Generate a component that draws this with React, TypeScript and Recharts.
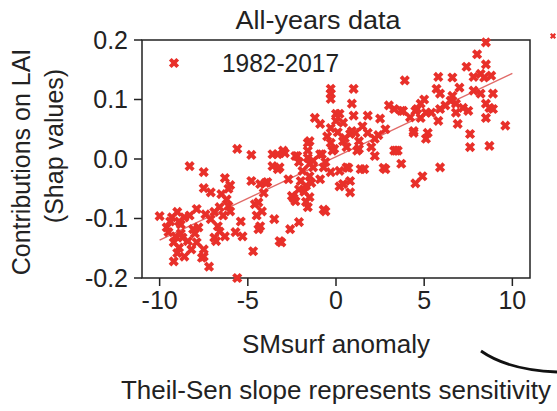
import { ScatterChart, Scatter, XAxis, YAxis, ReferenceLine, ReferenceArea } from 'recharts'

// SMsurf anomaly vs Shap value in four x-bands
const dryEnd: [number, number][] = [
  [-10.0, -0.096], [-9.6, -0.115], [-9.5, -0.123], [-9.3, -0.098], [-9.2, -0.14], [-9.2, -0.172],
  [-9.1, -0.13], [-9.0, -0.089], [-8.9, -0.105], [-8.9, -0.149], [-8.8, -0.11], [-8.7, -0.132],
  [-8.6, -0.098], [-8.6, -0.164], [-8.4, -0.138], [-8.3, -0.012], [-8.2, -0.152], [-8.1, -0.118],
  [-8.0, -0.125], [-7.9, -0.084], [-7.8, -0.115], [-7.6, -0.166], [-7.5, -0.022], [-7.5, -0.049],
  [-7.5, -0.152], [-7.5, -0.164], [-7.4, -0.093], [-7.2, -0.181], [-7.1, -0.056], [-7.1, -0.101],
  [-6.9, -0.089], [-6.9, -0.132], [-6.8, -0.138], [-6.7, -0.113], [-6.6, -0.081], [-6.6, -0.122],
  [-6.5, -0.059], [-6.3, -0.032], [-6.3, -0.13], [-6.2, -0.068], [-6.1, -0.079], [-6.0, -0.044],
  [-6.0, -0.088], [-5.7, -0.123], [-5.6, 0.017], [-5.6, -0.2], [-5.4, -0.105], [-5.3, -0.13],
  [-6.1, -0.05], [-6.4, -0.095], [-9.4, -0.105], [-8.8, -0.125], [-8.3, -0.095], [-7.9, -0.14],
  [-9.0, -0.158],
]

const midDry: [number, number][] = [
  [-4.8, 0.007], [-4.8, -0.037], [-4.7, -0.155], [-4.6, -0.076], [-4.4, -0.073], [-4.4, -0.118],
  [-4.3, -0.042], [-4.3, -0.113], [-4.2, -0.088], [-4.0, -0.04], [-3.9, -0.039], [-3.6, 0.008],
  [-3.6, -0.012], [-3.5, -0.101], [-3.3, 0.008], [-3.3, -0.017], [-3.2, -0.014], [-3.2, -0.138],
  [-3.1, -0.14], [-3.0, 0.014], [-2.9, 0.01], [-2.7, -0.034], [-2.6, -0.118], [-2.5, -0.062],
  [-2.4, -0.066], [-2.3, 0.005], [-2.3, -0.071], [-2.2, 0.005], [-2.1, -0.005], [-2.1, -0.051],
  [-2.1, -0.106], [-2.0, -0.037], [-1.6, 0.027], [-1.6, 0.014], [-1.6, 0.002], [-1.6, -0.081],
  [-1.5, 0.03], [-1.5, -0.008], [-1.5, -0.029], [-1.5, -0.064], [-1.3, -0.003], [-1.3, -0.014],
  [-1.2, 0.069], [-1.9, -0.02], [-1.8, -0.055], [-1.7, -0.045], [-1.4, -0.04], [-1.7, -0.072],
  [-4.1, -0.057], [-4.5, -0.095],
]

const midWet: [number, number][] = [
  [-0.9, 0.059], [-0.9, 0.008], [-0.9, -0.034], [-0.8, 0.008], [-0.7, -0.014], [-0.7, -0.085],
  [-0.6, -0.088], [-0.3, 0.118], [-0.3, 0.11], [-0.3, 0.101], [-0.3, 0.052], [-0.3, 0.027],
  [-0.3, -0.022], [-0.2, 0.014], [-0.1, 0.017], [0.0, 0.076], [0.0, 0.064], [0.2, 0.076],
  [0.2, -0.02], [0.2, -0.046], [0.4, 0.061], [0.4, 0.03], [0.4, -0.042], [0.5, 0.035],
  [0.6, -0.014], [0.7, -0.015], [0.8, 0.042], [0.8, -0.037], [0.8, -0.056], [0.9, 0.093],
  [0.9, 0.047], [1.0, 0.118], [1.0, 0.073], [1.1, 0.044], [1.2, 0.014], [1.3, 0.017],
  [1.3, 0.03], [1.4, -0.017], [1.6, -0.017], [1.8, 0.073], [1.8, 0.044], [2.2, 0.034],
  [2.2, 0.005], [2.5, 0.068], [2.7, -0.015], [2.8, -0.017], [-0.5, 0.038], [0.1, 0.045],
  [0.6, 0.02], [1.5, 0.055], [2.0, 0.02], [2.4, 0.04], [-0.6, -0.005],
]

const wetEnd: [number, number][] = [
  [3.3, 0.084], [3.3, 0.014], [3.4, 0.014], [3.5, 0.014], [3.7, 0.081], [3.7, -0.008],
  [3.8, 0.081], [3.9, 0.132], [4.4, 0.047], [4.4, 0.044], [4.5, 0.081], [4.5, -0.041],
  [4.6, 0.084], [4.8, 0.093], [4.8, 0.069], [4.9, -0.029], [5.1, 0.078], [5.1, 0.034],
  [5.2, 0.044], [5.4, 0.078], [5.7, 0.118], [5.8, 0.138], [5.8, 0.064], [5.9, 0.11],
  [5.9, 0.084], [5.9, -0.014], [6.5, 0.098], [6.6, 0.137], [6.6, 0.106], [6.8, 0.093],
  [6.8, 0.078], [6.9, 0.059], [7.2, 0.086], [7.4, 0.155], [7.5, 0.081], [7.6, 0.042],
  [7.6, 0.02], [7.8, 0.138], [7.8, 0.115], [8.0, 0.176], [8.2, 0.143], [8.2, 0.11],
  [8.4, 0.137], [8.5, 0.196], [8.5, 0.159], [8.5, 0.093], [8.5, 0.069], [8.7, 0.086],
  [8.7, 0.022], [8.8, 0.14], [8.9, 0.11], [8.9, 0.084], [9.6, 0.056], [2.8, 0.05],
  [3.0, 0.09], [5.0, 0.1], [6.2, 0.09], [7.0, 0.12], [4.2, 0.07],
]

const xTicks = [-10, -5, 0, 5, 10]
const yTicks = [-0.2, -0.1, 0, 0.1, 0.2]
const fitRange = [-10, 10]
const legendLabel = '1982-2017'

const RED = '#e8302a'
const FONT = '"Liberation Sans", Arial, sans-serif'

const points = [...dryEnd, ...midDry, ...midWet, ...wetEnd].map(([x, y]) => ({ x, y }))

const median = (arr: number[]) => {
  const s = [...arr].sort((a, b) => a - b)
  const m = Math.floor(s.length / 2)
  return s.length % 2 ? s[m] : (s[m - 1] + s[m]) / 2
}

// Theil-Sen estimator
const slopes: number[] = []
for (let i = 0; i < points.length; i++) {
  for (let j = i + 1; j < points.length; j++) {
    const dx = points[j].x - points[i].x
    if (dx !== 0) slopes.push((points[j].y - points[i].y) / dx)
  }
}
const slope = median(slopes)
const intercept = median(points.map((p) => p.y - slope * p.x))
const fitSegment = fitRange.map((x) => ({ x, y: slope * x + intercept }))

const XMark = ({ cx, cy, s = 1 }: { cx?: number; cy?: number; s?: number }) => {
  if (cx == null || cy == null) return null
  const a = 5.3
  const t = 1.9
  const pts = [
    [-t, -a], [t, -a], [t, -t], [a, -t], [a, t], [t, t],
    [t, a], [-t, a], [-t, t], [-a, t], [-a, -t], [-t, -t],
  ].map((p) => p.join(',')).join(' ')
  return <polygon points={pts} transform={`translate(${cx},${cy}) rotate(45) scale(${s})`} fill={RED} />
}

export default function App() {
  const tickStyle = { fontSize: 25, fill: '#222', fontFamily: FONT }
  return (
    <div style={{ position: 'absolute', left: 0, top: 0, width: 557, height: 411, background: '#fff' }}>
      <ScatterChart width={557} height={411} margin={{ top: 40, right: 27, bottom: 93, left: 0 }}>
        <XAxis
          type="number"
          dataKey="x"
          domain={[-11, 11]}
          ticks={xTicks}
          axisLine={false}
          tickLine={{ stroke: '#222', strokeWidth: 1.5 }}
          tickSize={8}
          tickMargin={5}
          height={40}
          tick={tickStyle}
        />
        <YAxis
          type="number"
          dataKey="y"
          domain={[-0.2, 0.2]}
          ticks={yTicks}
          tickFormatter={(v: number) => v.toFixed(1)}
          axisLine={false}
          tickLine={{ stroke: '#222', strokeWidth: 1.5 }}
          tickSize={8}
          tickMargin={6}
          width={142}
          tick={tickStyle}
        />
        <ReferenceArea x1={-11} x2={11} y1={-0.2} y2={0.2} fill="none" stroke="#222" strokeWidth={1.5} strokeOpacity={1} />
        <Scatter data={points} isAnimationActive={false} shape={(p: any) => <XMark cx={p.cx} cy={p.cy} />} />
        <ReferenceLine segment={fitSegment} stroke="#e06a68" strokeWidth={1.4} ifOverflow="visible" />
      </ScatterChart>
      <svg
        width={557}
        height={411}
        style={{ position: 'absolute', left: 0, top: 0, pointerEvents: 'none' }}
        fontFamily={FONT}
        fill="#222"
      >
        <XMark cx={174} cy={63} />
        <text x={222} y={72} fontSize={25} textLength={117} lengthAdjust="spacingAndGlyphs">
          {legendLabel}
        </text>
        <text x={318} y={29} fontSize={25} textAnchor="middle" textLength={165} lengthAdjust="spacingAndGlyphs">
          All-years data
        </text>
        <text x={336} y={353} fontSize={25} textAnchor="middle" textLength={188} lengthAdjust="spacingAndGlyphs">
          SMsurf anomaly
        </text>
        <text x={336} y={399} fontSize={26} textAnchor="middle" textLength={430} lengthAdjust="spacingAndGlyphs">
          Theil-Sen slope represents sensitivity
        </text>
        <text x={0} y={0} fontSize={25} textAnchor="middle" transform="translate(30,162) rotate(-90)">
          Contributions on LAI
        </text>
        <text x={0} y={0} fontSize={25} textAnchor="middle" transform="translate(63,146) rotate(-90)">
          (Shap values)
        </text>
        <XMark cx={553} cy={36} s={0.6} />
        <path d="M 481 351 Q 508 370 557 372" fill="none" stroke="#111" strokeWidth={2.8} />
      </svg>
    </div>
  )
}
